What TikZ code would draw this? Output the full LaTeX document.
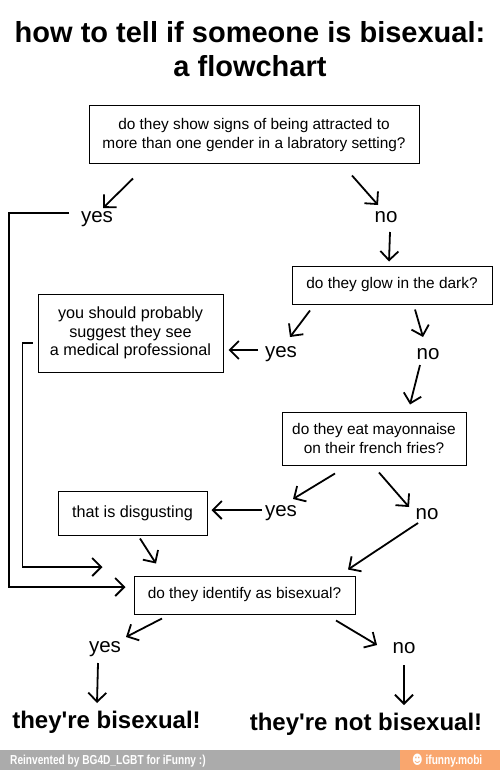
\documentclass[tikz,border=0pt]{standalone}
\usepackage{graphicx}
\usepackage{fontspec}
\setmainfont{Liberation Sans}
\newfontfamily\smileyfont{DejaVu Sans}
\usetikzlibrary{arrows.meta,positioning,calc}

\definecolor{footgray}{HTML}{ABABAB}
\definecolor{footorange}{HTML}{F9A66E}

\begin{document}
\begin{tikzpicture}[
    x=1pt, y=-1pt,
    qbox/.style={rectangle, draw, line width=1pt, align=center, inner sep=2pt, font=\fontsize{15.4}{19}\selectfont},
    abox/.style={qbox, font=\fontsize{16.2}{18.5}\selectfont},
    lbl/.style={anchor=base, inner sep=1pt, font=\fontsize{20.5}{24}\selectfont},
    verdict/.style={anchor=base, inner sep=1pt, font=\fontsize{24}{28}\selectfont\bfseries},
    headline/.style={anchor=base, inner sep=1pt, font=\fontsize{29}{34}\selectfont\bfseries},
    footnote/.style={anchor=base west, text=white, inner sep=0pt, font=\fontsize{13}{15}\selectfont\bfseries},
    arr/.style={-{Straight Barb[length=9pt,width=18pt]}, line width=1.8pt}
]
    \useasboundingbox (0,0) rectangle (500,770);
    \fill[white] (0,0) rectangle (500,770);
    % title
    \node[headline] (title) at (250,43) {how to tell if someone is bisexual:};
    \node[headline] (subtitle) at (250,77) {a flowchart};
    % questions and answers
    \node[qbox, minimum width=330pt, minimum height=58pt] (q1) at (254,135) {do they show signs of being attracted to\\more than one gender in a labratory setting?};
    \node[qbox, minimum width=200pt, minimum height=38pt] (q2) at (392,285) {do they glow in the dark?};
    \node[abox, minimum width=185pt, minimum height=78pt] (med) at (130.5,333) {you should probably\\suggest they see\\a medical professional};
    \node[qbox, minimum width=184pt, minimum height=53pt] (q3) at (374,438.5) {do they eat mayonnaise\\on their french fries?};
    \node[abox, minimum width=149pt, minimum height=44pt] (disg) at (132.5,513) {that is disgusting};
    \node[qbox, minimum width=221pt, minimum height=38pt] (q4) at (244.5,595) {do they identify as bisexual?};
    % yes / no
    \node[lbl] (yes1) at (97,222) {yes};
    \node[lbl] (no1) at (386,222) {no};
    \node[lbl] (yes2) at (281,357) {yes};
    \node[lbl] (no2) at (428,359) {no};
    \node[lbl] (yes3) at (281,516) {yes};
    \node[lbl] (no3) at (427,519) {no};
    \node[lbl] (yes4) at (105,652) {yes};
    \node[lbl] (no4) at (404,653) {no};
    \node[verdict] (isbi) at (106.5,728) {they\textquotesingle re bisexual!};
    \node[verdict] (notbi) at (366,730) {they\textquotesingle re not bisexual!};
    % arrows
    \draw[arr] ([shift={(-121,14)}]q1.south) -- ([shift={(6,-14)}]yes1.base);
    \draw[arr] ([shift={(98,11)}]q1.south) -- ([shift={(-8,-17)}]no1.base);
    \draw[arr] ([shift={(4,10)}]no1.base) -- ([shift={(-3,-4)}]q2.north);
    \draw[arr] ([shift={(-82,6)}]q2.south) -- ([shift={(9,-20)}]yes2.base);
    \draw[arr] ([shift={(23,5)}]q2.south) -- ([shift={(-5,-22)}]no2.base);
    \draw[arr] ([shift={(-23,-7)}]yes2.base) -- ([shift={(5,17)}]med.east);
    \draw[arr] ([shift={(-8,6)}]no2.base) -- ([shift={(36,-7)}]q3.north);
    \draw[arr] ([shift={(-39,8)}]q3.south) -- ([shift={(12,-17)}]yes3.base);
    \draw[arr] ([shift={(5,7)}]q3.south) -- ([shift={(-18,-12)}]no3.base);
    \draw[arr] ([shift={(-19,-6)}]yes3.base) -- ([shift={(4,-3)}]disg.east);
    \draw[arr] ([shift={(7.5,3)}]disg.south) -- ([shift={(-88.5,-12)}]q4.north);
    \draw[arr] ([shift={(-9,4)}]no3.base) -- ([shift={(103.5,-6)}]q4.north);
    \draw[arr] ([shift={(-82.5,4)}]q4.south) -- ([shift={(21,-15)}]yes4.base);
    \draw[arr] ([shift={(91.5,6)}]q4.south) -- ([shift={(-27,-8)}]no4.base);
    \draw[arr] ([shift={(-7,11)}]yes4.base) -- ([shift={(-9.5,-25)}]isbi.base);
    \draw[arr] ([shift={(0,12)}]no4.base) -- ([shift={(38,-25)}]notbi.base);
    \draw[arr] ([shift={(-28,-9)}]yes1.base) -- ++(-60,0) |- ([shift={(-8,-8)}]q4.west);
    \draw[arr] ([shift={(-5,10)}]med.west) -- ++(-10,0) |- ([shift={(-31,-28)}]q4.west);
    % footer
    \fill[footgray] (0,750) rectangle (400,770);
    \fill[footorange] (400,750) rectangle (500,770);
    \node[footnote] (credit) at (10,764) {\scalebox{0.78}[1]{Reinvented by BG4D\_LGBT for iFunny :)}};
    \node[footnote] (site) at (412,764) {\scalebox{0.78}[1]{{\smileyfont ☻} ifunny.mobi}};
\end{tikzpicture}
\end{document}
